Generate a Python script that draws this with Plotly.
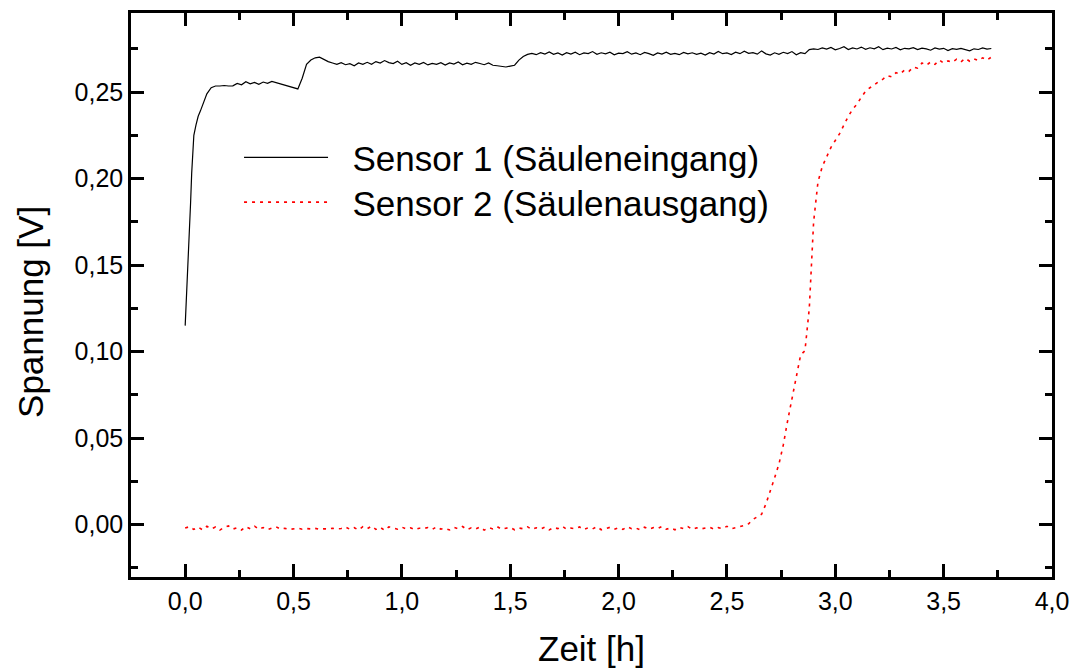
import plotly.graph_objects as go

# ---- Sensor 1 (Säuleneingang): time [h] and voltage [V]
t1_early = [0.0, 0.005, 0.01, 0.015, 0.02, 0.025, 0.03, 0.035, 0.04, 0.05, 0.06, 0.07,
            0.08, 0.09, 0.10, 0.12, 0.14]
v1_early = [0.115, 0.128, 0.141, 0.153, 0.166, 0.186, 0.203, 0.216, 0.225, 0.231, 0.236, 0.239,
            0.2425, 0.246, 0.249, 0.2525, 0.2535]
v1_main = [
    0.2535, 0.2538, 0.2535, 0.2536, 0.2550, 0.2542, 0.2560, 0.2548, 0.2556, 0.2545,
    0.2558, 0.2550, 0.2562, 0.2555, 0.2548, 0.2540, 0.2536, 0.2528, 0.2518, 0.2580,
    0.2660, 0.2685, 0.2698, 0.2702, 0.2688, 0.2676, 0.2668, 0.2660, 0.2670, 0.2658,
    0.2664, 0.2652, 0.2668, 0.2660, 0.2672, 0.2661, 0.2676, 0.2668, 0.2682, 0.2670,
    0.2665, 0.2678, 0.2660, 0.2670, 0.2655, 0.2668, 0.2660, 0.2671, 0.2657, 0.2666,
    0.2660, 0.2670, 0.2656, 0.2668, 0.2662, 0.2674, 0.2658, 0.2667, 0.2660, 0.2672,
    0.2665, 0.2658, 0.2668, 0.2655, 0.2652, 0.2648, 0.2645, 0.2650, 0.2655, 0.2685,
    0.2706, 0.2718, 0.2724, 0.2716, 0.2728, 0.2720, 0.2732, 0.2718, 0.2726, 0.2714,
    0.2728, 0.2720, 0.2730, 0.2716, 0.2726, 0.2722, 0.2734, 0.2718, 0.2727, 0.2721,
    0.2730, 0.2715, 0.2725, 0.2722, 0.2733, 0.2719, 0.2726, 0.2716, 0.2729, 0.2722,
    0.2712, 0.2726, 0.2720, 0.2731, 0.2718, 0.2724, 0.2716, 0.2729, 0.2721, 0.2727,
    0.2718, 0.2725, 0.2714, 0.2728, 0.2720, 0.2735, 0.2722, 0.2726, 0.2717, 0.2730,
    0.2722, 0.2736, 0.2724, 0.2728, 0.2719, 0.2738, 0.2721, 0.2714, 0.2727, 0.2718,
    0.2730, 0.2722, 0.2734, 0.2716, 0.2728, 0.2722, 0.2745, 0.2750, 0.2746, 0.2755,
    0.2748, 0.2758, 0.2744, 0.2752, 0.2762, 0.2746, 0.2755, 0.2749, 0.2760, 0.2747,
    0.2756, 0.2750, 0.2762, 0.2745, 0.2754, 0.2749, 0.2758, 0.2744, 0.2753, 0.2750,
    0.2757, 0.2746, 0.2754, 0.2750, 0.2742, 0.2755, 0.2748, 0.2753, 0.2740, 0.2751,
    0.2747, 0.2752, 0.2745, 0.2738, 0.2750, 0.2746, 0.2755, 0.2748, 0.2752,
]
t1_main = [round(0.16 + 0.02 * i, 2) for i in range(len(v1_main))]  # sampling grid, 0.02 h

# ---- Sensor 2 (Säulenausgang): sampled every 0.02 h from 0 h
v2 = [
    -0.0020, -0.0012, -0.0028, -0.0015, -0.0030, -0.0010, -0.0025, -0.0014, -0.0032, -0.0016,
    -0.0008, -0.0026, -0.0018, -0.0031, -0.0012, -0.0024, -0.0009, -0.0027, -0.0017, -0.0029,
    -0.0020, -0.0013, -0.0026, -0.0022, -0.0028, -0.0024, -0.0021, -0.0027, -0.0023, -0.0025,
    -0.0022, -0.0028, -0.0024, -0.0026, -0.0021, -0.0025, -0.0023, -0.0014, -0.0027, -0.0018,
    -0.0031, -0.0012, -0.0024, -0.0009, -0.0028, -0.0016, -0.0033, -0.0013, -0.0022, -0.0027,
    -0.0015, -0.0025, -0.0019, -0.0030, -0.0021, -0.0023, -0.0017, -0.0028, -0.0013, -0.0026,
    -0.0022, -0.0031, -0.0016, -0.0024, -0.0011, -0.0029, -0.0019, -0.0026, -0.0014, -0.0032,
    -0.0018, -0.0025, -0.0012, -0.0027, -0.0021, -0.0016, -0.0030, -0.0020, -0.0024, -0.0013,
    -0.0028, -0.0019, -0.0026, -0.0015, -0.0031, -0.0017, -0.0023, -0.0010, -0.0027, -0.0020,
    -0.0024, -0.0014, -0.0029, -0.0018, -0.0025, -0.0012, -0.0030, -0.0021, -0.0016, -0.0027,
    -0.0019, -0.0028, -0.0013, -0.0024, -0.0020, -0.0031, -0.0015, -0.0026, -0.0018, -0.0023,
    -0.0011, -0.0027, -0.0020, -0.0030, -0.0016, -0.0024, -0.0012, -0.0028, -0.0019, -0.0025,
    -0.0021, -0.0015, -0.0026, -0.0018, -0.0023, -0.0010, -0.0024, -0.0016, -0.0012, -0.0005,
    0.0005, 0.0030, 0.0045, 0.0060, 0.0120, 0.0190, 0.0270, 0.0350, 0.0460, 0.0600,
    0.0730, 0.0870, 0.0980, 0.1005, 0.1250, 0.1750, 0.1980, 0.2070, 0.2130, 0.2180,
    0.2220, 0.2260, 0.2310, 0.2360, 0.2400, 0.2430, 0.2470, 0.2505, 0.2525, 0.2545,
    0.2560, 0.2575, 0.2595, 0.2588, 0.2612, 0.2605, 0.2628, 0.2620, 0.2645, 0.2638,
    0.2668, 0.2655, 0.2674, 0.2660, 0.2685, 0.2668, 0.2680, 0.2672, 0.2690, 0.2675,
    0.2695, 0.2678, 0.2692, 0.2682, 0.2698, 0.2685, 0.2702,
]
t2 = [round(0.02 * i, 2) for i in range(len(v2))]  # sampling grid, 0.02 h

x_ticks = [0.0, 0.5, 1.0, 1.5, 2.0, 2.5, 3.0, 3.5, 4.0]
y_ticks = [0.00, 0.05, 0.10, 0.15, 0.20, 0.25]

FONT = "Liberation Sans, Arial, sans-serif"
GAP = "\u00a0\u00a0"

fig = go.Figure()
fig.add_trace(go.Scatter(
    x=t1_early + t1_main, y=v1_early + v1_main, mode="lines",
    name=GAP + "Sensor 1 (Säuleneingang)",
    line=dict(color="black", width=1.2),
    legend="legend",
))
fig.add_trace(go.Scatter(
    x=t2, y=v2, mode="lines",
    name=GAP + "Sensor 2 (Säulenausgang)",
    line=dict(color="red", width=1.6, dash="3px,5px"),
    legend="legend2",
))

axis_common = dict(
    showline=True, linecolor="black", linewidth=2.5, mirror="allticks",
    ticks="inside", ticklen=13, tickwidth=2.5, tickcolor="black",
    showgrid=False, zeroline=False, automargin=False,
    tickfont=dict(family=FONT, size=25, color="black"),
)

fig.update_xaxes(
    range=[-0.25, 4.0], tickvals=x_ticks, tickformat=".1f",
    minor=dict(ticks="inside", ticklen=7, tickwidth=2.5, tickcolor="black", dtick=0.25, tick0=0),
    title=dict(text="Zeit [h]", font=dict(family=FONT, size=35, color="black"), standoff=25),
    **axis_common,
)
fig.update_yaxes(
    range=[-0.0303, 0.2957], tickvals=y_ticks, tickformat=".2f",
    minor=dict(ticks="inside", ticklen=7, tickwidth=2.5, tickcolor="black", dtick=0.025, tick0=0),
    **axis_common,
)

# y-axis title placed as rotated annotation (sits slightly below the axis centre, as in the original)
fig.add_annotation(
    text="Spannung [V]", textangle=-90,
    xref="paper", yref="paper", x=-0.1086, y=0.4699,
    xanchor="center", yanchor="middle", showarrow=False,
    font=dict(family=FONT, size=35, color="black"),
)

legend_common = dict(
    xanchor="left", yanchor="top",
    bgcolor="rgba(0,0,0,0)", borderwidth=0,
    font=dict(family=FONT, size=35, color="black"),
    itemwidth=84,
)

fig.update_layout(
    width=1073, height=668,
    margin=dict(l=131, r=21, t=13, b=91),
    paper_bgcolor="white", plot_bgcolor="white",
    separators=",.",
    font=dict(family=FONT, color="black"),
    showlegend=True,
    legend=dict(x=0.1173, y=0.796, **legend_common),
    legend2=dict(x=0.1173, y=0.7165, **legend_common),
)

fig.write_html("out.html")
